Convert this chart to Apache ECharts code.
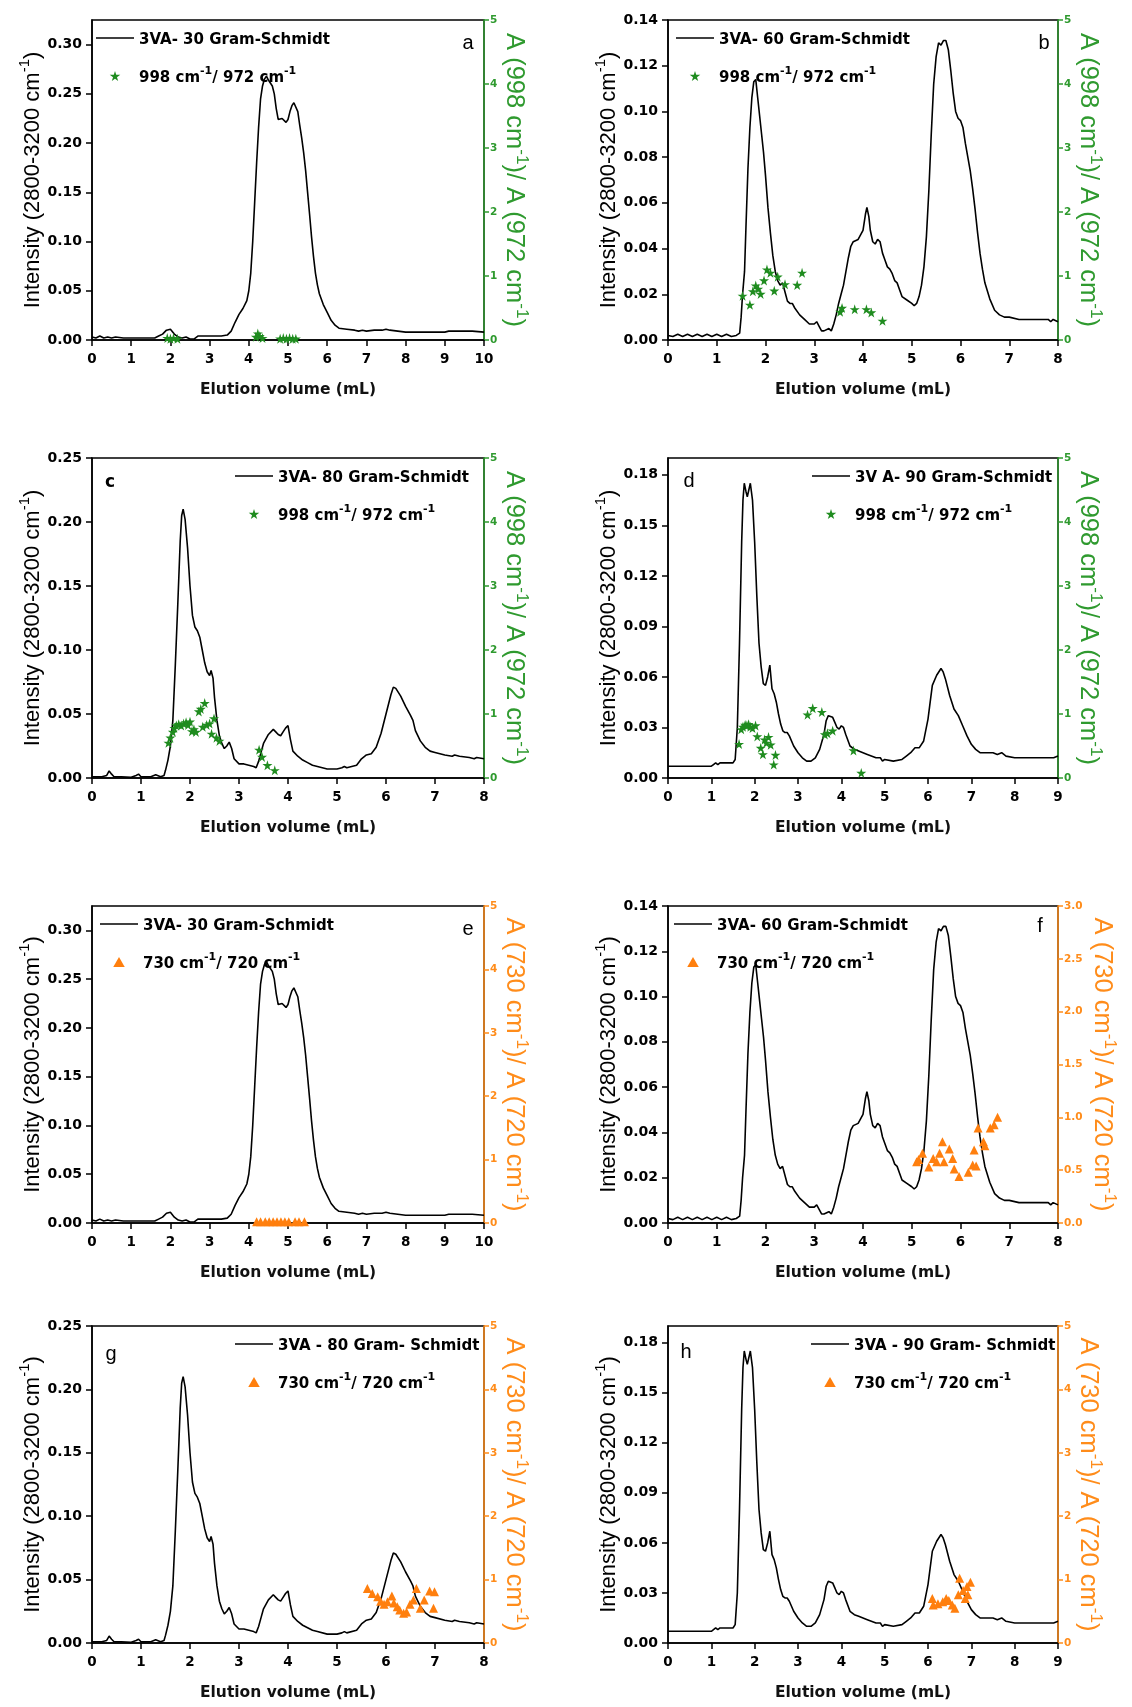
<!DOCTYPE html>
<html>
<head>
<meta charset="utf-8">
<script src="https://cdn.jsdelivr.net/npm/echarts@6/dist/echarts.min.js"></script>
<style>
  html, body { margin: 0; padding: 0; background: #fff; }
  #chart { width: 1132px; height: 1707px; }
</style>
</head>
<body>
<div id="chart"></div>
<script>
// ---- Gram-Schmidt traces, [elution volume (mL), intensity] ----
const curve30 = [[0,0.003],[0.1,0.002],[0.2,0.004],[0.3,0.002],[0.4,0.003],[0.5,0.002],[0.6,0.003],[0.8,0.002],[1.0,0.002],[1.2,0.002],[1.4,0.002],[1.6,0.002],[1.7,0.004],[1.8,0.006],[1.9,0.010],[1.95,0.012],[2.0,0.011],[2.1,0.006],[2.2,0.003],[2.3,0.002],[2.4,0.003],[2.5,0.001],[2.6,0.001],[2.7,0.004],[3.0,0.004],[3.3,0.004],[3.45,0.005],[3.55,0.009],[3.65,0.018],[3.75,0.026],[3.85,0.032],[3.95,0.040],[4.0,0.050],[4.05,0.068],[4.1,0.100],[4.15,0.140],[4.2,0.180],[4.25,0.216],[4.3,0.245],[4.35,0.258],[4.4,0.265],[4.45,0.268],[4.5,0.264],[4.55,0.262],[4.6,0.258],[4.65,0.250],[4.7,0.235],[4.75,0.224],[4.8,0.222],[4.85,0.225],[4.9,0.224],[4.95,0.221],[5.0,0.224],[5.05,0.232],[5.1,0.238],[5.15,0.241],[5.2,0.240],[5.25,0.232],[5.3,0.218],[5.35,0.205],[5.4,0.190],[5.45,0.172],[5.5,0.150],[5.55,0.128],[5.6,0.105],[5.65,0.085],[5.7,0.068],[5.75,0.056],[5.8,0.047],[5.9,0.036],[6.0,0.028],[6.1,0.020],[6.2,0.015],[6.3,0.012],[6.5,0.011],[6.7,0.010],[6.8,0.009],[6.9,0.010],[7.0,0.009],[7.2,0.010],[7.4,0.010],[7.5,0.011],[7.6,0.010],[7.8,0.009],[8.0,0.008],[8.5,0.008],[9.0,0.008],[9.1,0.009],[9.5,0.009],[9.7,0.009],[9.75,0.008],[10.0,0.008]];

const curve60 = [[0,0.002],[0.1,0.0015],[0.2,0.0025],[0.3,0.0015],[0.4,0.0025],[0.5,0.0015],[0.6,0.0025],[0.7,0.0015],[0.8,0.0025],[0.9,0.0015],[1.0,0.0025],[1.1,0.0015],[1.2,0.0025],[1.3,0.0015],[1.4,0.002],[1.47,0.003],[1.5,0.010],[1.53,0.020],[1.57,0.030],[1.6,0.050],[1.64,0.075],[1.68,0.093],[1.72,0.106],[1.76,0.113],[1.8,0.114],[1.84,0.106],[1.88,0.098],[1.92,0.090],[1.96,0.082],[2.0,0.072],[2.05,0.058],[2.1,0.047],[2.15,0.037],[2.2,0.030],[2.25,0.026],[2.3,0.024],[2.35,0.025],[2.4,0.021],[2.45,0.017],[2.5,0.016],[2.55,0.016],[2.6,0.014],[2.7,0.011],[2.8,0.009],[2.9,0.007],[3.0,0.007],[3.05,0.008],[3.1,0.006],[3.15,0.004],[3.2,0.004],[3.3,0.005],[3.35,0.004],[3.4,0.007],[3.45,0.011],[3.5,0.016],[3.55,0.020],[3.6,0.024],[3.65,0.030],[3.7,0.036],[3.75,0.041],[3.8,0.043],[3.9,0.044],[3.95,0.046],[4.0,0.048],[4.05,0.055],[4.08,0.058],[4.12,0.054],[4.15,0.048],[4.2,0.043],[4.25,0.042],[4.3,0.044],[4.35,0.043],[4.4,0.038],[4.45,0.035],[4.5,0.032],[4.55,0.031],[4.6,0.029],[4.65,0.026],[4.7,0.025],[4.75,0.022],[4.8,0.019],[4.9,0.0175],[5.0,0.016],[5.05,0.015],[5.1,0.016],[5.15,0.019],[5.2,0.024],[5.25,0.032],[5.3,0.045],[5.35,0.065],[5.4,0.090],[5.45,0.112],[5.5,0.124],[5.55,0.130],[5.6,0.129],[5.65,0.131],[5.7,0.131],[5.75,0.127],[5.8,0.118],[5.85,0.108],[5.9,0.100],[5.95,0.097],[6.0,0.096],[6.05,0.093],[6.1,0.086],[6.15,0.080],[6.2,0.074],[6.25,0.066],[6.3,0.057],[6.35,0.047],[6.4,0.038],[6.45,0.031],[6.5,0.025],[6.6,0.018],[6.7,0.013],[6.8,0.011],[6.9,0.010],[7.0,0.010],[7.2,0.009],[7.5,0.009],[7.8,0.009],[7.85,0.008],[7.9,0.009],[8.0,0.008]];

const curve80 = [[0,0.001],[0.2,0.001],[0.3,0.002],[0.35,0.0055],[0.4,0.003],[0.45,0.001],[0.6,0.001],[0.8,0.0005],[0.9,0.002],[0.95,0.003],[1.0,0.001],[1.2,0.001],[1.3,0.0025],[1.4,0.001],[1.47,0.002],[1.5,0.006],[1.55,0.014],[1.6,0.025],[1.65,0.045],[1.7,0.088],[1.75,0.135],[1.8,0.185],[1.83,0.205],[1.86,0.210],[1.9,0.202],[1.95,0.180],[2.0,0.150],[2.05,0.127],[2.1,0.118],[2.15,0.115],[2.2,0.110],[2.25,0.100],[2.3,0.090],[2.35,0.083],[2.4,0.080],[2.43,0.084],[2.47,0.078],[2.5,0.063],[2.55,0.045],[2.6,0.033],[2.65,0.027],[2.7,0.023],[2.75,0.025],[2.8,0.028],[2.85,0.023],[2.9,0.015],[3.0,0.011],[3.1,0.011],[3.2,0.010],[3.3,0.009],[3.35,0.008],[3.4,0.013],[3.45,0.020],[3.5,0.027],[3.6,0.034],[3.7,0.038],[3.75,0.036],[3.8,0.034],[3.85,0.033],[3.9,0.036],[3.95,0.039],[4.0,0.041],[4.05,0.030],[4.1,0.021],[4.2,0.017],[4.3,0.014],[4.4,0.012],[4.5,0.010],[4.6,0.009],[4.8,0.007],[5.0,0.007],[5.1,0.008],[5.15,0.009],[5.2,0.008],[5.4,0.010],[5.5,0.015],[5.6,0.018],[5.7,0.019],[5.8,0.024],[5.9,0.035],[6.0,0.050],[6.1,0.065],[6.15,0.071],[6.2,0.070],[6.3,0.064],[6.4,0.056],[6.5,0.049],[6.55,0.045],[6.6,0.037],[6.7,0.029],[6.8,0.024],[6.9,0.021],[7.0,0.020],[7.2,0.018],[7.35,0.017],[7.4,0.018],[7.5,0.017],[7.7,0.016],[7.8,0.015],[7.85,0.016],[8.0,0.015]];

const curve90 = [[0,0.007],[0.3,0.007],[0.5,0.007],[0.52,0.008],[0.55,0.007],[1.0,0.007],[1.05,0.008],[1.1,0.009],[1.15,0.008],[1.2,0.009],[1.5,0.009],[1.55,0.011],[1.6,0.030],[1.65,0.080],[1.7,0.140],[1.73,0.165],[1.76,0.175],[1.8,0.170],[1.83,0.167],[1.86,0.168],[1.9,0.175],[1.95,0.165],[2.0,0.140],[2.05,0.108],[2.1,0.080],[2.15,0.066],[2.2,0.056],[2.25,0.055],[2.3,0.060],[2.35,0.067],[2.4,0.053],[2.45,0.050],[2.5,0.045],[2.55,0.038],[2.6,0.032],[2.65,0.028],[2.7,0.027],[2.75,0.027],[2.8,0.025],[2.9,0.019],[3.0,0.015],[3.1,0.012],[3.2,0.010],[3.3,0.010],[3.4,0.012],[3.5,0.017],[3.6,0.026],[3.65,0.034],[3.7,0.037],[3.8,0.036],[3.85,0.033],[3.9,0.030],[3.95,0.029],[4.0,0.031],[4.05,0.030],[4.1,0.026],[4.2,0.019],[4.3,0.017],[4.4,0.016],[4.6,0.014],[4.8,0.012],[4.9,0.012],[4.95,0.010],[5.0,0.011],[5.2,0.010],[5.4,0.011],[5.5,0.013],[5.6,0.015],[5.7,0.018],[5.8,0.018],[5.9,0.022],[6.0,0.035],[6.05,0.045],[6.1,0.055],[6.2,0.061],[6.3,0.065],[6.35,0.063],[6.4,0.059],[6.5,0.049],[6.6,0.041],[6.7,0.037],[6.8,0.031],[6.9,0.025],[7.0,0.020],[7.1,0.017],[7.2,0.015],[7.5,0.015],[7.6,0.014],[7.7,0.015],[7.8,0.013],[8.0,0.012],[8.5,0.012],[8.9,0.012],[9.0,0.013]];

// ---- absorbance ratios, [elution volume (mL), ratio] ----
const ratioA = [[1.92,0.03],[2.0,0.02],[2.08,0.03],[2.18,0.02],[4.18,0.05],[4.23,0.1],[4.28,0.06],[4.35,0.03],[4.8,0.02],[4.88,0.03],[4.96,0.02],[5.04,0.03],[5.12,0.02],[5.2,0.02]];
const ratioB = [[1.53,0.69],[1.68,0.55],[1.74,0.76],[1.8,0.85],[1.85,0.8],[1.9,0.72],[1.97,0.93],[2.03,1.1],[2.1,1.05],[2.18,0.77],[2.25,0.99],[2.4,0.87],[2.65,0.86],[2.75,1.05],[3.53,0.44],[3.57,0.5],[3.83,0.48],[4.07,0.48],[4.17,0.43],[4.4,0.3]];
const ratioC = [[1.56,0.55],[1.6,0.63],[1.65,0.72],[1.68,0.78],[1.72,0.82],[1.77,0.84],[1.82,0.82],[1.87,0.85],[1.92,0.87],[1.96,0.83],[2.0,0.88],[2.04,0.73],[2.08,0.76],[2.12,0.72],[2.18,1.04],[2.22,1.08],[2.26,0.8],[2.3,1.17],[2.34,0.83],[2.4,0.85],[2.44,0.69],[2.49,0.93],[2.54,0.63],[2.6,0.58],[3.41,0.44],[3.47,0.33],[3.58,0.2],[3.73,0.12]];
const ratioD = [[1.64,0.53],[1.69,0.76],[1.73,0.8],[1.78,0.83],[1.82,0.82],[1.86,0.84],[1.9,0.8],[1.95,0.78],[2.02,0.82],[2.06,0.65],[2.14,0.47],[2.19,0.37],[2.23,0.6],[2.27,0.55],[2.32,0.64],[2.37,0.52],[2.44,0.21],[2.48,0.36],[3.22,0.99],[3.34,1.09],[3.55,1.03],[3.62,0.68],[3.68,0.7],[3.8,0.74],[4.28,0.43],[4.46,0.08]];
const ratioE = [[4.2,0.02],[4.3,0.02],[4.42,0.02],[4.52,0.02],[4.62,0.02],[4.72,0.02],[4.82,0.02],[4.92,0.02],[5.02,0.02],[5.18,0.02],[5.28,0.02],[5.42,0.02]];
const ratioF = [[5.1,0.58],[5.14,0.6],[5.22,0.66],[5.35,0.53],[5.44,0.61],[5.51,0.58],[5.57,0.66],[5.63,0.77],[5.66,0.58],[5.77,0.7],[5.84,0.61],[5.87,0.51],[5.97,0.44],[6.16,0.48],[6.25,0.55],[6.28,0.69],[6.32,0.54],[6.36,0.9],[6.47,0.77],[6.5,0.73],[6.61,0.9],[6.69,0.93],[6.76,1.0]];
const ratioG = [[5.62,0.86],[5.72,0.78],[5.83,0.73],[5.89,0.66],[5.96,0.61],[6.03,0.65],[6.12,0.74],[6.16,0.63],[6.23,0.57],[6.28,0.52],[6.36,0.47],[6.42,0.49],[6.49,0.61],[6.56,0.68],[6.62,0.86],[6.7,0.55],[6.78,0.68],[6.89,0.82],[6.97,0.55],[6.99,0.81]];
const ratioH = [[6.1,0.7],[6.12,0.6],[6.23,0.62],[6.34,0.65],[6.42,0.7],[6.48,0.67],[6.56,0.6],[6.62,0.55],[6.7,0.76],[6.73,1.02],[6.81,0.83],[6.86,0.7],[6.9,0.89],[6.92,0.76],[6.98,0.96]];

// ---- tick values ----
const xTicks10 = [0,1,2,3,4,5,6,7,8,9,10];
const xTicks9 = [0,1,2,3,4,5,6,7,8,9];
const xTicks8 = [0,1,2,3,4,5,6,7,8];
const yTicks030 = [0,0.05,0.10,0.15,0.20,0.25,0.30];
const yTicks025 = [0,0.05,0.10,0.15,0.20,0.25];
const yTicks014 = [0,0.02,0.04,0.06,0.08,0.10,0.12,0.14];
const yTicks018 = [0,0.03,0.06,0.09,0.12,0.15,0.18];
const rTicks5 = [0,1,2,3,4,5];
const rTicks3 = [0,0.5,1.0,1.5,2.0,2.5,3.0];

// ---- labels ( ^...^ marks superscript ) ----
const yTitle = 'Intensity (2800-3200 cm^-1^)';
const xTitle = 'Elution volume (mL)';
const rTitle998 = 'A (998 cm^-1^)/ A (972 cm^-1^)';
const rTitle730 = 'A (730 cm^-1^)/ A (720 cm^-1^)';
const name998 = '998 cm^-1^/ 972 cm^-1^';
const name730 = '730 cm^-1^/ 720 cm^-1^';
const traceNames = ['3VA- 30 Gram-Schmidt','3VA- 60 Gram-Schmidt','3VA- 80 Gram-Schmidt','3V A- 90 Gram-Schmidt',
                    '3VA- 30 Gram-Schmidt','3VA- 60 Gram-Schmidt','3VA - 80 Gram- Schmidt','3VA - 90 Gram- Schmidt'];
const panelLetters = ['a','b','c','d','e','f','g','h'];

const GREEN = '#2f9a2f';
const GREEN_MARK = '#1f8c1f';
const ORANGE = '#ff8c1a';
const ORANGE_MARK = '#ff7f0e';
const STAR = 'path://M50,0 L61,35 L98,35 L68,57 L79,91 L50,70 L21,91 L32,57 L2,35 L39,35 Z';
const TRIANGLE = 'path://M50,0 L100,87 L0,87 Z';
const DASH = 'path://M0,0 L30,0 L30,1.25 L0,1.25 Z';

const panels = [
  { curve: curve30, ratio: ratioA, xMax: 10, xTicks: xTicks10, yMax: 0.325, yStep: 0.05, yTicks: yTicks030, yDec: 2, rMax: 5, rStep: 1, rTicks: rTicks5, rDec: 0, kind: 998 },
  { curve: curve60, ratio: ratioB, xMax: 8,  xTicks: xTicks8,  yMax: 0.14,  yStep: 0.02, yTicks: yTicks014, yDec: 2, rMax: 5, rStep: 1, rTicks: rTicks5, rDec: 0, kind: 998 },
  { curve: curve80, ratio: ratioC, xMax: 8,  xTicks: xTicks8,  yMax: 0.25,  yStep: 0.05, yTicks: yTicks025, yDec: 2, rMax: 5, rStep: 1, rTicks: rTicks5, rDec: 0, kind: 998 },
  { curve: curve90, ratio: ratioD, xMax: 9,  xTicks: xTicks9,  yMax: 0.19,  yStep: 0.03, yTicks: yTicks018, yDec: 2, rMax: 5, rStep: 1, rTicks: rTicks5, rDec: 0, kind: 998 },
  { curve: curve30, ratio: ratioE, xMax: 10, xTicks: xTicks10, yMax: 0.325, yStep: 0.05, yTicks: yTicks030, yDec: 2, rMax: 5, rStep: 1, rTicks: rTicks5, rDec: 0, kind: 730 },
  { curve: curve60, ratio: ratioF, xMax: 8,  xTicks: xTicks8,  yMax: 0.14,  yStep: 0.02, yTicks: yTicks014, yDec: 2, rMax: 3, rStep: 0.5, rTicks: rTicks3, rDec: 1, kind: 730 },
  { curve: curve80, ratio: ratioG, xMax: 8,  xTicks: xTicks8,  yMax: 0.25,  yStep: 0.05, yTicks: yTicks025, yDec: 2, rMax: 5, rStep: 1, rTicks: rTicks5, rDec: 0, kind: 730 },
  { curve: curve90, ratio: ratioH, xMax: 9,  xTicks: xTicks9,  yMax: 0.19,  yStep: 0.03, yTicks: yTicks018, yDec: 2, rMax: 5, rStep: 1, rTicks: rTicks5, rDec: 0, kind: 730 }
];

// plot boxes, legend anchors, right-title gaps and panel letter positions (px)
const boxes = [
  { left: 92,  top: 20,   width: 392, height: 320, legendLeft: 96,  rGap: 17, letter: [468, 43] },
  { left: 668, top: 20,   width: 390, height: 320, legendLeft: 676, rGap: 17, letter: [1044, 43] },
  { left: 92,  top: 458,  width: 392, height: 320, legendLeft: 235, rGap: 17, letter: [110, 483] },
  { left: 668, top: 458,  width: 390, height: 320, legendLeft: 812, rGap: 17, letter: [689, 481] },
  { left: 92,  top: 906,  width: 392, height: 317, legendLeft: 100, rGap: 17, letter: [468, 929] },
  { left: 668, top: 906,  width: 390, height: 317, legendLeft: 674, rGap: 31, letter: [1040, 926] },
  { left: 92,  top: 1326, width: 392, height: 317, legendLeft: 235, rGap: 17, letter: [111, 1354] },
  { left: 668, top: 1326, width: 390, height: 317, legendLeft: 811, rGap: 17, letter: [686, 1352] }
];

// turn "text ^sup^ text" into ECharts rich-text markup
function richMark(str) {
  return str.split('^').map((seg, k) => seg === '' ? '' : '{' + (k % 2 ? 's' : 't') + '|' + seg + '}').join('');
}

const grid = [], xAxis = [], yAxis = [], series = [], legend = [], graphic = [];

panels.forEach((p, i) => {
  const b = boxes[i];
  const accent = p.kind === 998 ? GREEN : ORANGE;
  const markColor = p.kind === 998 ? GREEN_MARK : ORANGE_MARK;
  const ratioName = p.kind === 998 ? name998 : name730;
  const rTitle = p.kind === 998 ? rTitle998 : rTitle730;

  grid.push({
    left: b.left, top: b.top, width: b.width, height: b.height,
    show: true, borderColor: '#000', borderWidth: 1.5, backgroundColor: 'transparent',
    containLabel: false, outerBoundsMode: 'none'
  });

  xAxis.push({
    gridIndex: i, type: 'value', min: 0, max: p.xMax, interval: 1,
    name: xTitle, nameLocation: 'middle', nameGap: 42, nameMoveOverlap: false,
    nameTextStyle: { fontFamily: 'DejaVu Sans', fontWeight: 'bold', fontSize: 15.5, color: '#111' },
    axisLine: { onZero: false, lineStyle: { color: '#000', width: 1.5 } },
    axisTick: { length: 6, lineStyle: { color: '#000', width: 1.5 }, customValues: p.xTicks },
    axisLabel: { margin: 12, customValues: p.xTicks, fontFamily: 'DejaVu Sans', fontWeight: 'bold', fontSize: 13.5, color: '#000',
                 formatter: v => String(Math.round(v)) },
    splitLine: { show: false }
  });

  yAxis.push({
    gridIndex: i, type: 'value', position: 'left', min: 0, max: p.yMax, interval: p.yStep,
    name: richMark(yTitle), nameLocation: 'middle', nameRotate: 90, nameGap: 48, nameMoveOverlap: false,
    nameTextStyle: {
      color: '#000',
      rich: {
        t: { fontFamily: 'Liberation Sans', fontSize: 22, lineHeight: 27, verticalAlign: 'bottom', color: '#000' },
        s: { fontFamily: 'Liberation Sans', fontSize: 15, lineHeight: 13, verticalAlign: 'top', color: '#000' }
      }
    },
    axisLine: { onZero: false, lineStyle: { color: '#000', width: 1.5 } },
    axisTick: { length: 6, lineStyle: { color: '#000', width: 1.5 }, customValues: p.yTicks },
    axisLabel: { margin: 10, customValues: p.yTicks, fontFamily: 'DejaVu Sans', fontWeight: 'bold', fontSize: 14, color: '#000',
                 formatter: v => v.toFixed(p.yDec) },
    splitLine: { show: false }
  });

  yAxis.push({
    gridIndex: i, type: 'value', position: 'right', min: 0, max: p.rMax, interval: p.rStep,
    name: richMark(rTitle), nameLocation: 'middle', nameRotate: -90, nameGap: b.rGap, nameMoveOverlap: false,
    nameTextStyle: {
      color: accent,
      rich: {
        t: { fontFamily: 'Liberation Sans', fontSize: 25.5, lineHeight: 29, verticalAlign: 'bottom', color: accent },
        s: { fontFamily: 'Liberation Sans', fontSize: 17, lineHeight: 15, verticalAlign: 'top', color: accent }
      }
    },
    axisLine: { onZero: false, lineStyle: { color: accent, width: 1.5 } },
    axisTick: { length: 5, lineStyle: { color: accent, width: 1.5 }, customValues: p.rTicks },
    axisLabel: { margin: 6, customValues: p.rTicks, fontFamily: 'DejaVu Sans', fontWeight: 'bold', fontSize: 10.5, color: accent,
                 formatter: v => v.toFixed(p.rDec) },
    splitLine: { show: false }
  });

  series.push({
    type: 'line', name: traceNames[i], xAxisIndex: i, yAxisIndex: 2 * i,
    data: p.curve, symbol: 'none', showSymbol: false,
    lineStyle: { color: '#000', width: 1.6 }, itemStyle: { color: '#000' }, z: 3
  });
  series.push({
    type: 'scatter', name: ratioName, xAxisIndex: i, yAxisIndex: 2 * i + 1,
    data: p.ratio, symbol: p.kind === 998 ? STAR : TRIANGLE, symbolSize: p.kind === 998 ? 10 : 9,
    itemStyle: { color: markColor, opacity: 1 }, z: 4
  });

  legend.push({
    orient: 'vertical', left: b.legendLeft, top: b.top + 13, padding: 0,
    itemWidth: 38, itemHeight: 10, itemGap: 18, selectedMode: false, symbolKeepAspect: true,
    data: [
      { name: traceNames[i], icon: DASH },
      { name: ratioName, icon: p.kind === 998 ? STAR : TRIANGLE }
    ],
    formatter: n => richMark(n),
    textStyle: {
      color: '#000',
      rich: {
        t: { fontFamily: 'DejaVu Sans', fontWeight: 'bold', fontSize: 15, lineHeight: 20, verticalAlign: 'bottom', color: '#000' },
        s: { fontFamily: 'DejaVu Sans', fontWeight: 'bold', fontSize: 11, lineHeight: 10, verticalAlign: 'top', color: '#000' }
      }
    }
  });

  graphic.push({
    type: 'text', x: b.letter[0], y: b.letter[1], silent: true,
    style: {
      text: panelLetters[i], fill: '#000', align: 'center', verticalAlign: 'middle',
      font: (panelLetters[i] === 'c' ? 'bold 17px "DejaVu Sans"' : '20px "Liberation Sans"')
    }
  });
});

const chart = echarts.init(document.getElementById('chart'), null, { renderer: 'canvas' });
chart.setOption({
  backgroundColor: '#fff',
  animation: false,
  grid, xAxis, yAxis, series, legend, graphic
});
</script>
</body>
</html>
